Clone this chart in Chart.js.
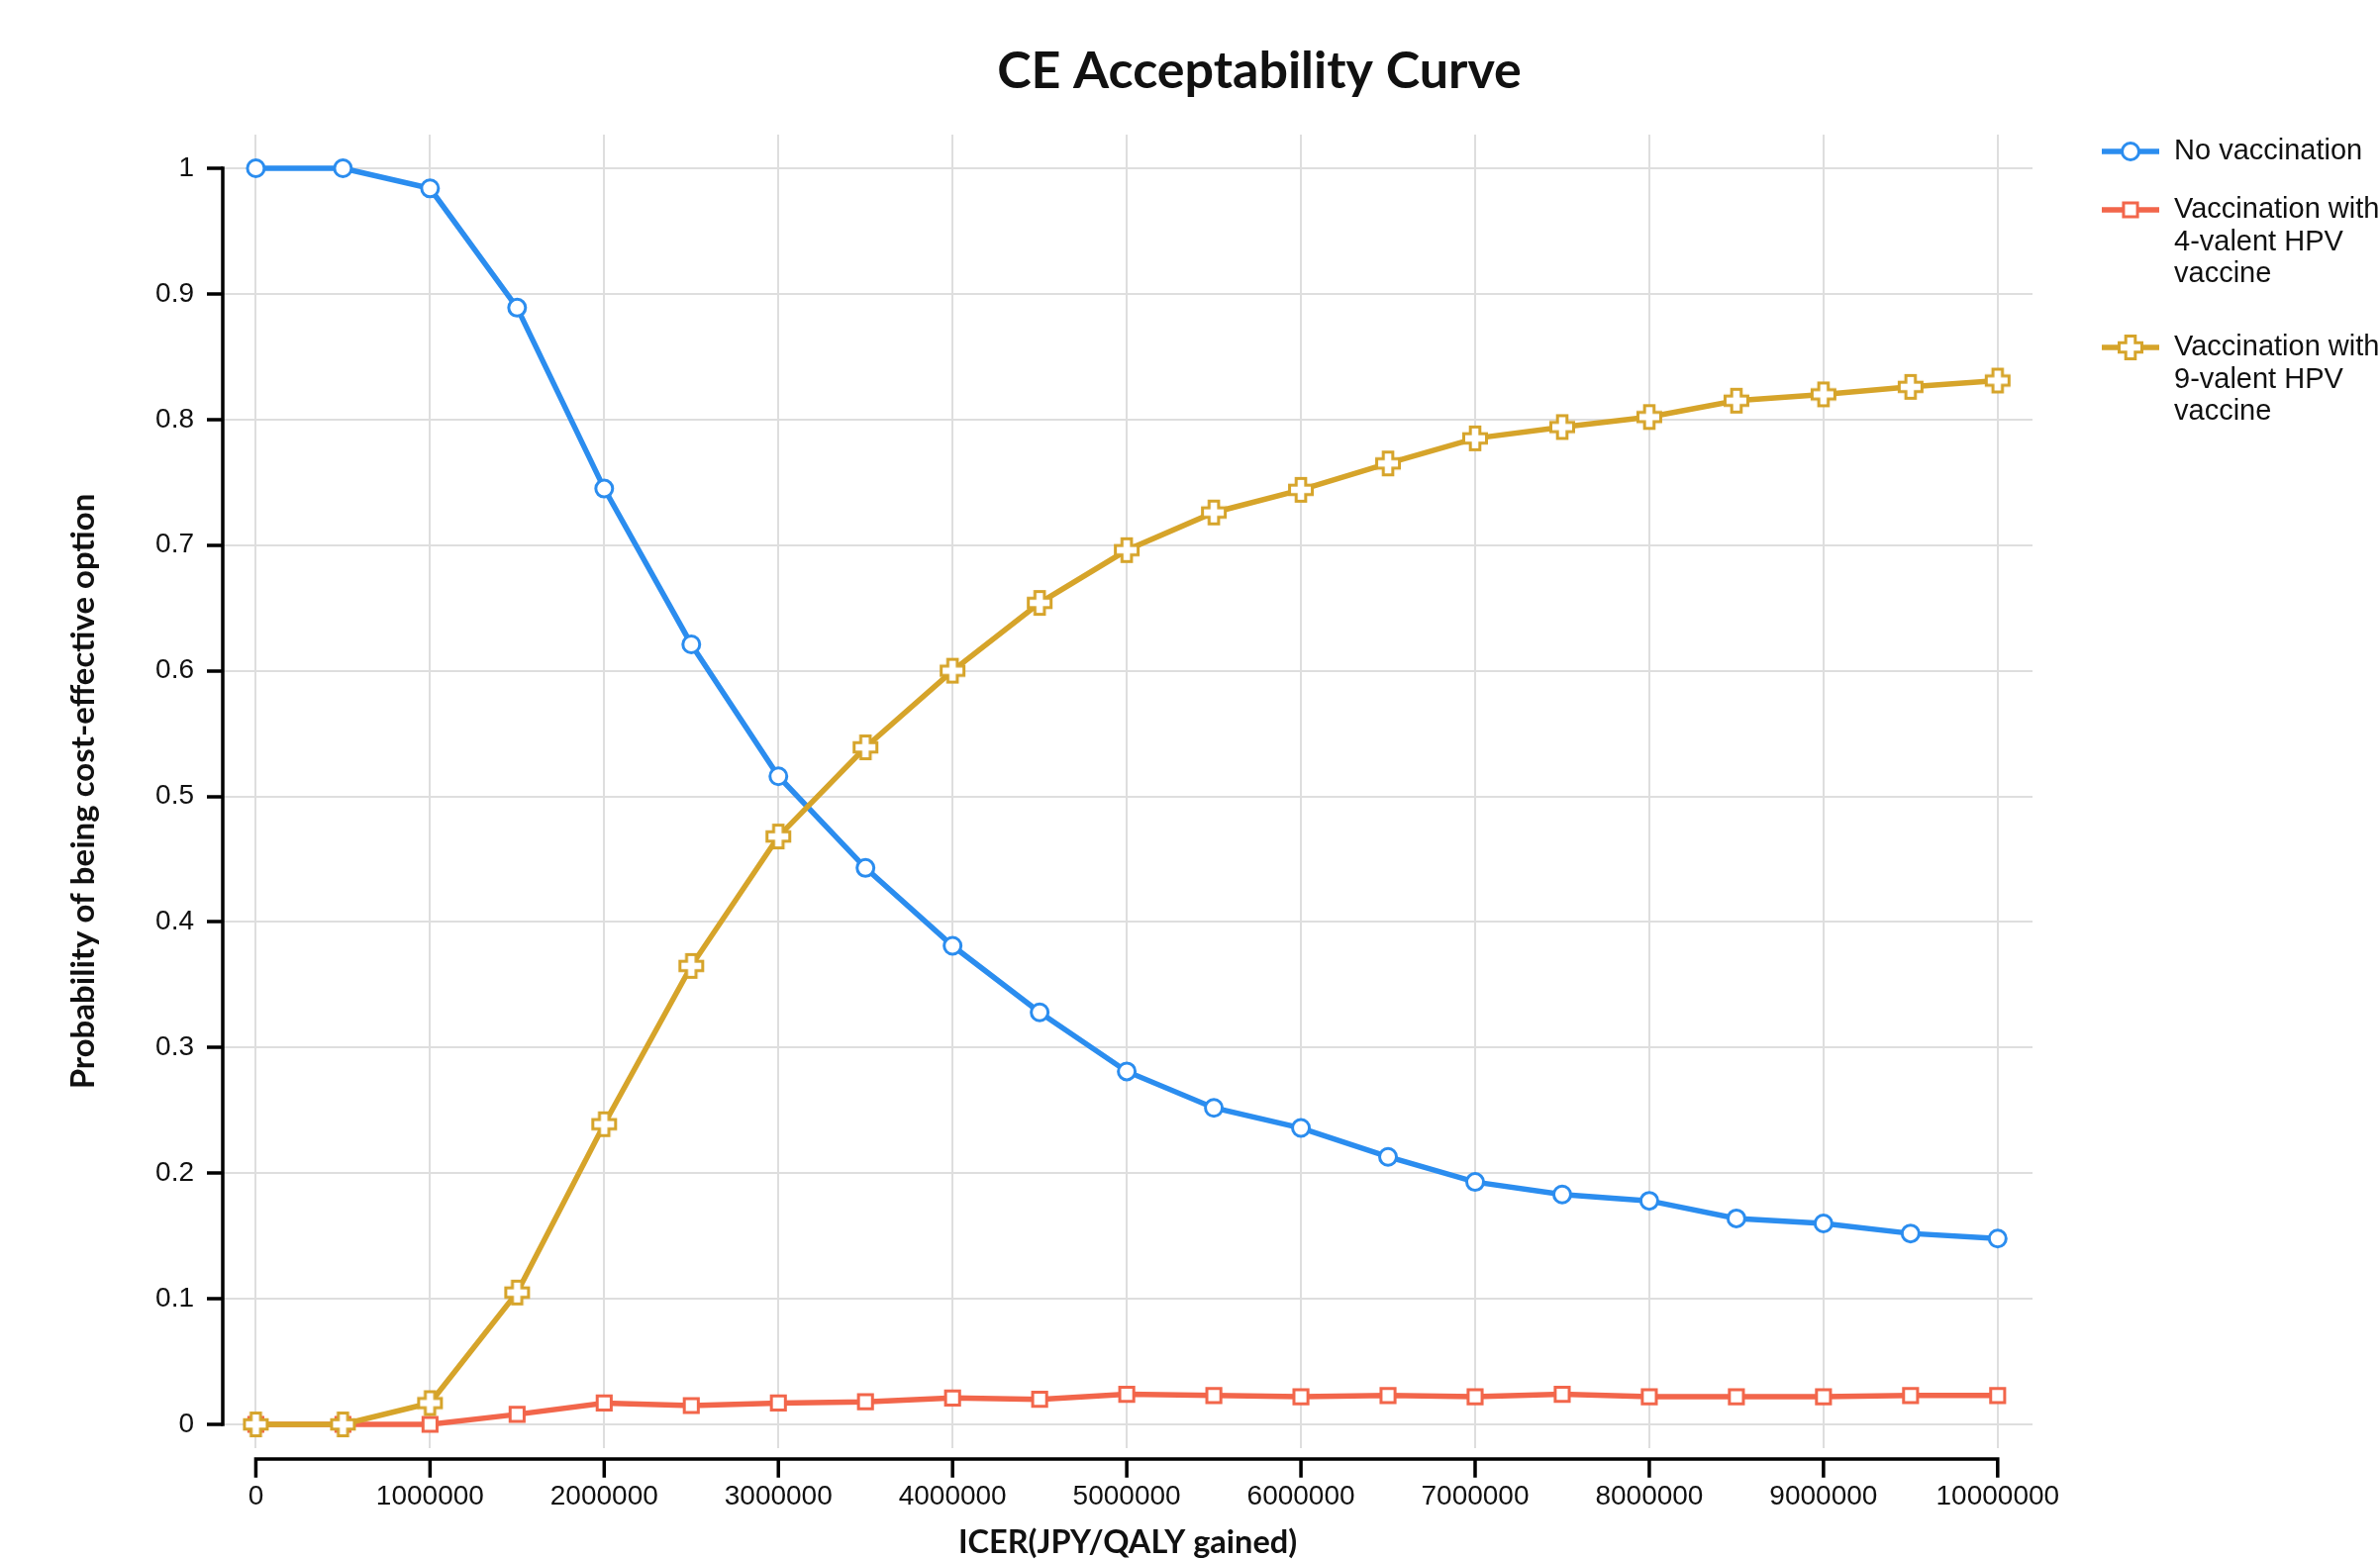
<!DOCTYPE html>
<html>
<head>
<meta charset="utf-8">
<script src="https://cdn.jsdelivr.net/npm/chart.js@4.4.1/dist/chart.umd.min.js"></script>
<style>
  html, body { margin: 0; padding: 0; background: #fff; }
  #wrap { width: 2404px; height: 1575px; }
</style>
</head>
<body>
<div id="wrap"><canvas id="ceac" width="2404" height="1575"></canvas></div>
<script>
// willingness-to-pay thresholds (JPY/QALY)
const wtp = [0, 500000, 1000000, 1500000, 2000000, 2500000, 3000000, 3500000, 4000000, 4500000,
  5000000, 5500000, 6000000, 6500000, 7000000, 7500000, 8000000, 8500000, 9000000, 9500000, 10000000];

const noVaccination = [1.0, 1.0, 0.984, 0.889, 0.745, 0.621, 0.516, 0.443, 0.381, 0.328,
  0.281, 0.252, 0.236, 0.213, 0.193, 0.183, 0.178, 0.164, 0.160, 0.152, 0.148];
const hpv4 = [0, 0, 0, 0.008, 0.017, 0.015, 0.017, 0.018, 0.021, 0.020,
  0.024, 0.023, 0.022, 0.023, 0.022, 0.024, 0.022, 0.022, 0.022, 0.023, 0.023];
const hpv9 = [0, 0, 0.017, 0.105, 0.239, 0.365, 0.468, 0.539, 0.600, 0.654,
  0.696, 0.726, 0.744, 0.765, 0.785, 0.794, 0.802, 0.815, 0.820, 0.826, 0.831];

const xTicks = [0, 1000000, 2000000, 3000000, 4000000, 5000000, 6000000, 7000000, 8000000, 9000000, 10000000];
const yTicks = [0, 0.1, 0.2, 0.3, 0.4, 0.5, 0.6, 0.7, 0.8, 0.9, 1];

const seriesNames = [
  ['No vaccination'],
  ['Vaccination with', '4-valent HPV', 'vaccine'],
  ['Vaccination with', '9-valent HPV', 'vaccine']
];

const BLUE = '#2b8def';
const RED = '#f2664b';
const GOLD = '#d6a42a';

// outlined plus marker (no built-in style for this)
function plusMarker(color) {
  const c = document.createElement('canvas');
  c.width = 28; c.height = 28;
  const g = c.getContext('2d');
  const m = 14, a = 4.8, L = 11.5;
  g.beginPath();
  g.moveTo(m - a, m - L); g.lineTo(m + a, m - L); g.lineTo(m + a, m - a);
  g.lineTo(m + L, m - a); g.lineTo(m + L, m + a); g.lineTo(m + a, m + a);
  g.lineTo(m + a, m + L); g.lineTo(m - a, m + L); g.lineTo(m - a, m + a);
  g.lineTo(m - L, m + a); g.lineTo(m - L, m - a); g.lineTo(m - a, m - a);
  g.closePath();
  g.fillStyle = '#fff';
  g.fill();
  g.lineWidth = 3;
  g.strokeStyle = color;
  g.stroke();
  return c;
}
const plusImg = plusMarker(GOLD);

const toPoints = vals => vals.map((v, i) => ({ x: wtp[i], y: v }));

function drawMarker(ctx, ds, x, y) {
  ctx.save();
  if (typeof ds.pointStyle === 'object') {
    ctx.drawImage(ds.pointStyle, x - ds.pointStyle.width / 2, y - ds.pointStyle.height / 2);
  } else {
    ctx.lineWidth = ds.pointBorderWidth;
    ctx.strokeStyle = ds.borderColor;
    ctx.fillStyle = '#fff';
    ctx.beginPath();
    if (ds.pointStyle === 'circle') {
      ctx.arc(x, y, ds.pointRadius, 0, Math.PI * 2);
    } else {
      const s = ds.pointRadius * Math.SQRT1_2;
      ctx.rect(x - s, y - s, 2 * s, 2 * s);
    }
    ctx.fill();
    ctx.stroke();
  }
  ctx.restore();
}

const decor = {
  id: 'decor',
  afterDraw(chart) {
    const { ctx, chartArea, scales: { x, y } } = chart;
    ctx.save();

    // title
    ctx.fillStyle = '#111';
    ctx.font = 'bold 52px Lato, "Open Sans", sans-serif';
    ctx.textAlign = 'center';
    ctx.textBaseline = 'middle';
    ctx.fillText('CE Acceptability Curve', 1272, 72);

    // axis lines with tick marks, only over the data range
    ctx.strokeStyle = '#000';
    ctx.lineWidth = 3.5;
    ctx.lineCap = 'square';
    const ay = chartArea.bottom + 11;
    const xa = x.getPixelForValue(xTicks[0]);
    const xb = x.getPixelForValue(xTicks[xTicks.length - 1]);
    ctx.beginPath();
    ctx.moveTo(xa, ay); ctx.lineTo(xb, ay);
    xTicks.forEach(v => {
      const px = x.getPixelForValue(v);
      ctx.moveTo(px, ay); ctx.lineTo(px, ay + 17);
    });
    ctx.stroke();
    ctx.beginPath();
    ctx.moveTo(chartArea.left, y.getPixelForValue(yTicks[yTicks.length - 1]));
    ctx.lineTo(chartArea.left, y.getPixelForValue(yTicks[0]));
    ctx.stroke();

    // legend on the right
    const rowsY = [153, 212, 351];
    ctx.font = '29px "Liberation Sans", Arial, sans-serif';
    ctx.textAlign = 'left';
    chart.data.datasets.forEach((ds, i) => {
      const ry = rowsY[i];
      ctx.strokeStyle = ds.borderColor;
      ctx.lineWidth = ds.borderWidth;
      ctx.lineCap = 'butt';
      ctx.beginPath();
      ctx.moveTo(2123, ry); ctx.lineTo(2181, ry);
      ctx.stroke();
      drawMarker(ctx, ds, 2152, ry);
      ctx.fillStyle = '#111';
      seriesNames[i].forEach((line, k) => ctx.fillText(line, 2196, ry + k * 32.5));
    });
    ctx.restore();
  }
};

new Chart(document.getElementById('ceac'), {
  type: 'line',
  data: {
    datasets: [
      {
        label: seriesNames[0].join(' '),
        data: toPoints(noVaccination),
        borderColor: BLUE, backgroundColor: BLUE, borderWidth: 5.5,
        pointStyle: 'circle', pointRadius: 8.5, pointBorderWidth: 3,
        pointBackgroundColor: '#fff', pointBorderColor: BLUE,
        order: 1
      },
      {
        label: seriesNames[1].join(' '),
        data: toPoints(hpv4),
        borderColor: RED, backgroundColor: RED, borderWidth: 5.5,
        pointStyle: 'rect', pointRadius: 10, pointBorderWidth: 3,
        pointBackgroundColor: '#fff', pointBorderColor: RED,
        order: 2
      },
      {
        label: seriesNames[2].join(' '),
        data: toPoints(hpv9),
        borderColor: GOLD, backgroundColor: GOLD, borderWidth: 5.5,
        pointStyle: plusImg, pointRadius: 12,
        order: 0
      }
    ]
  },
  options: {
    responsive: false,
    devicePixelRatio: 1,
    animation: false,
    layout: { padding: { top: 136, right: 351, bottom: 0, left: 0 } },
    elements: { line: { tension: 0 } },
    scales: {
      x: {
        type: 'linear',
        min: -190000,
        max: 10200000,
        afterBuildTicks: s => { s.ticks = xTicks.map(v => ({ value: v })); },
        afterFit: s => { s.height = 112; },
        border: { display: false },
        grid: { color: '#dedede', lineWidth: 2, drawTicks: false },
        ticks: {
          padding: 32,
          color: '#111',
          font: { family: '"Liberation Sans", Arial, sans-serif', size: 28 },
          callback: v => String(v)
        },
        title: {
          display: true,
          text: 'ICER(JPY/QALY gained)',
          color: '#111',
          font: { family: 'Lato, "Open Sans", sans-serif', size: 32.5, weight: 'bold', lineHeight: 1 },
          padding: { top: 0, bottom: 0 }
        }
      },
      y: {
        min: -0.0189,
        max: 1.0268,
        afterBuildTicks: s => { s.ticks = yTicks.map(v => ({ value: v })); },
        afterFit: s => { s.width = 225; },
        border: { display: false },
        grid: { color: '#dedede', lineWidth: 2, tickColor: '#000', tickWidth: 3.5, tickLength: 16 },
        ticks: {
          padding: 13,
          color: '#111',
          font: { family: '"Liberation Sans", Arial, sans-serif', size: 28 },
          callback: v => String(Math.round(v * 10) / 10)
        },
        title: {
          display: true,
          text: 'Probability of being cost-effective option',
          color: '#111',
          font: { family: 'Lato, "Open Sans", sans-serif', size: 33, weight: 'bold', lineHeight: 1 },
          padding: { top: 68, bottom: 0 }
        }
      }
    },
    plugins: {
      legend: { display: false },
      tooltip: { enabled: false },
      title: { display: false }
    }
  },
  plugins: [decor]
});
</script>
</body>
</html>
